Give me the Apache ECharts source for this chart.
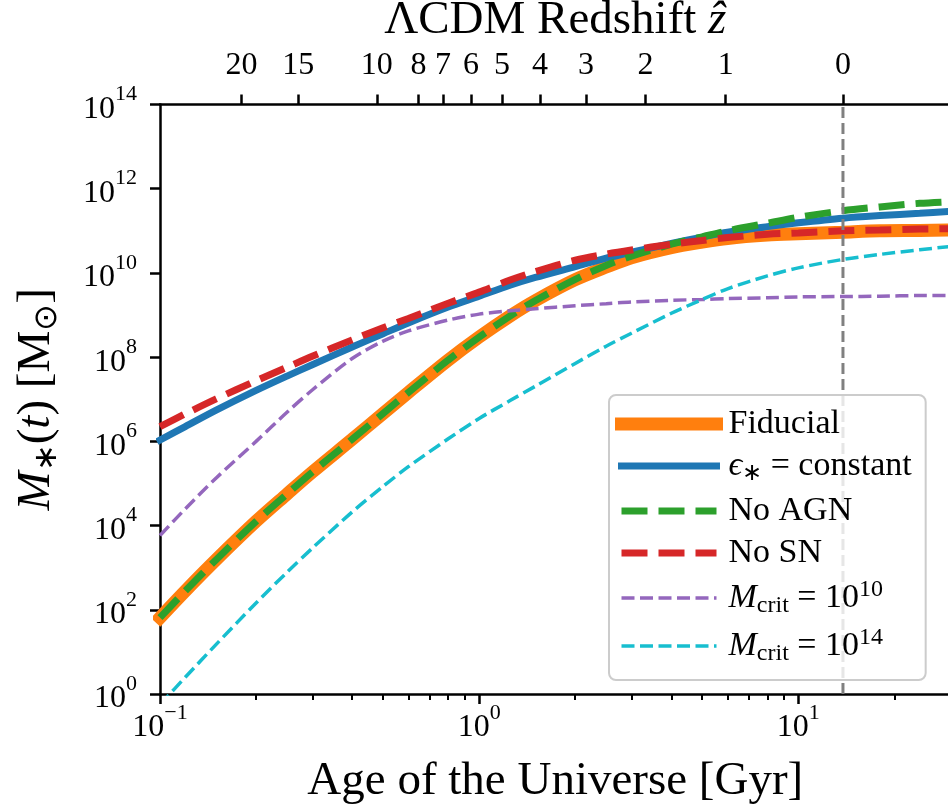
<!DOCTYPE html>
<html><head><meta charset="utf-8">
<script src="https://cdn.jsdelivr.net/npm/echarts@6/dist/echarts.min.js"></script>
<style>html,body{margin:0;padding:0;background:#fff}#c{width:948px;height:812px}</style>
</head><body><div id="c"></div>
<script>
// ---- data (age of the Universe in Gyr, stellar mass in solar masses) ----
const age = [0.1, 0.12, 0.15, 0.2, 0.25, 0.3, 0.4, 0.5, 0.6, 0.8, 1.0, 1.25, 1.5, 2, 2.5, 3, 4, 5, 6, 8, 10, 13.8, 18, 24, 30];
const fiducial = [6.5e1, 2.8e2, 1.55e3, 1.26e4, 5.6e4, 1.86e5, 1.12e6, 4.6e6, 1.45e7, 8.5e7, 3.0e8, 9.5e8, 2.2e9, 6.9e9, 1.38e10, 2.3e10, 4.0e10, 5.4e10, 6.6e10, 7.9e10, 8.5e10, 9.3e10, 1.0e11, 1.02e11, 1.05e11];
const epsConstant = [1.07e6, 2.24e6, 5.5e6, 1.62e7, 3.55e7, 6.6e7, 1.74e8, 3.6e8, 6.5e8, 1.55e9, 2.8e9, 5.1e9, 7.8e9, 1.41e10, 2.24e10, 3.1e10, 5.0e10, 7.1e10, 9.3e10, 1.26e11, 1.55e11, 2.0e11, 2.3e11, 2.6e11, 2.9e11];
const noAGN = [6.5e1, 2.8e2, 1.55e3, 1.26e4, 5.6e4, 1.86e5, 1.12e6, 4.6e6, 1.45e7, 8.5e7, 3.0e8, 9.5e8, 2.2e9, 7.0e9, 1.51e10, 2.5e10, 4.8e10, 7.2e10, 1.0e11, 1.51e11, 2.09e11, 3.0e11, 3.7e11, 4.5e11, 4.9e11];
const noSN = [2.24e6, 4.5e6, 1.02e7, 2.75e7, 5.75e7, 1.05e8, 2.57e8, 5.0e8, 8.3e8, 1.91e9, 3.5e9, 6.8e9, 1.07e10, 2.0e10, 2.8e10, 3.5e10, 4.8e10, 5.9e10, 6.9e10, 8.3e10, 8.9e10, 1.0e11, 1.05e11, 1.1e11, 1.12e11];
const mcrit1e10 = [5.8e3, 2.5e4, 1.35e5, 1.0e6, 4.9e6, 1.66e7, 9.3e7, 2.4e8, 4.2e8, 7.6e8, 1.05e9, 1.26e9, 1.41e9, 1.66e9, 1.86e9, 2.04e9, 2.24e9, 2.34e9, 2.45e9, 2.57e9, 2.7e9, 2.75e9, 2.8e9, 2.9e9, 2.9e9];
const mcrit1e14 = [0.56, 2.5, 15.1, 145, 776, 2.9e3, 2.1e4, 8.5e4, 2.5e5, 1.15e6, 3.5e6, 9.3e6, 2.04e7, 7.1e7, 1.82e8, 3.7e8, 1.1e9, 2.34e9, 4.2e9, 8.5e9, 1.32e10, 2.09e10, 2.75e10, 3.55e10, 4.27e10];
const todayAge = 13.8;
const redshiftLabels = ['20', '15', '10', '8', '7', '6', '5', '4', '3', '2', '1', '0'];
const redshiftAges = [0.180, 0.271, 0.478, 0.646, 0.771, 0.942, 1.18, 1.55, 2.16, 3.32, 5.92, 13.8];
const xMajorTicks = [0.1, 1, 10];
const xMinorTicks = [0.2, 0.3, 0.4, 0.5, 0.6, 0.7, 0.8, 0.9, 2, 3, 4, 5, 6, 7, 8, 9, 20];
const yMajorTicks = [1, 1e2, 1e4, 1e6, 1e8, 1e10, 1e12, 1e14];
const xRange = [0.1, 30];
const yRange = [1, 1e14];

// ---- styling ----
const FONT = 'Liberation Serif';
const tickRich = {
  b: {fontFamily: FONT, fontSize: 32, lineHeight: 42, verticalAlign: 'bottom', color: '#000'},
  s: {fontFamily: FONT, fontSize: 22, lineHeight: 22, verticalAlign: 'top', color: '#000'}
};
const expLabel = v => {
  const e = Math.round(Math.log10(v));
  return '{b|10}{s|' + (e < 0 ? '\u2212' + (-e) : e) + '}';
};
const nameRich = {
  n: {fontFamily: FONT, fontSize: 47, lineHeight: 54, color: '#000'},
  i: {fontFamily: FONT, fontSize: 47, lineHeight: 54, fontStyle: 'italic', color: '#000'},
  sub: {fontFamily: FONT, fontSize: 32, lineHeight: 32, verticalAlign: 'bottom', color: '#000'}
};
const legRich = {
  g: {width: 7},
  n: {fontFamily: FONT, fontSize: 34, lineHeight: 40, color: '#000'},
  i: {fontFamily: FONT, fontSize: 34, lineHeight: 40, fontStyle: 'italic', color: '#000'},
  sub: {fontFamily: FONT, fontSize: 24, lineHeight: 24, verticalAlign: 'bottom', color: '#000'},
  sup: {fontFamily: FONT, fontSize: 24, lineHeight: 24, verticalAlign: 'top', color: '#000'}
};
const legendText = {
  'Fiducial': '{g|}{n|Fiducial}',
  'eps': '{g|}{i|\u03f5}{sub|\u2217}{n| = constant}',
  'No AGN': '{g|}{n|No AGN}',
  'No SN': '{g|}{n|No SN}',
  'mc10': '{g|}{i|M}{sub|crit}{n| = 10}{sup|10}',
  'mc14': '{g|}{i|M}{sub|crit}{n| = 10}{sup|14}'
};
const pair = ys => age.map((t, i) => [t, ys[i]]);
const thickDash = [26, 11];
const thinDash = [13, 5.5];
const mkLine = (name, ys, color, width, dash) => ({
  type: 'line', name: name, data: pair(ys), symbol: 'none', showSymbol: false,
  smooth: 0.3, clip: true, silent: true,
  lineStyle: {color: color, width: width, type: dash || 'solid', cap: dash ? 'butt' : 'square'},
  itemStyle: {color: color}
});
const axisLineStyle = {color: '#000', width: 2.5};
const hiddenSym = {color: 'rgba(0,0,0,0)', borderWidth: 0, opacity: 0};

const option = {
  animation: false,
  backgroundColor: '#fff',
  grid: [
    {left: 160, top: 104.5, right: -2.6, bottom: 118, containLabel: false, outerBoundsMode: 'none'},
    {left: 160, top: 104.5, right: -2.6, bottom: 118, containLabel: false, outerBoundsMode: 'none'}
  ],
  xAxis: [
    {
      type: 'log', logBase: 10, min: xRange[0], max: xRange[1], gridIndex: 0, position: 'bottom',
      axisLine: {show: true, onZero: false, lineStyle: axisLineStyle},
      axisTick: {show: true, customValues: xMajorTicks, length: 10, inside: false, lineStyle: axisLineStyle},
      axisLabel: {show: true, customValues: xMajorTicks, formatter: expLabel, margin: 8, rich: tickRich},
      splitLine: {show: false}, minorTick: {show: false},
      name: 'Age of the Universe [Gyr]', nameLocation: 'middle', nameGap: 64,
      nameTextStyle: {fontFamily: FONT, fontSize: 47, color: '#000'}
    },
    {
      type: 'log', logBase: 10, min: xRange[0], max: xRange[1], gridIndex: 0, position: 'top',
      axisLine: {show: true, onZero: false, lineStyle: axisLineStyle},
      axisTick: {show: true, customValues: redshiftAges, length: 10, inside: false, lineStyle: axisLineStyle},
      axisLabel: {
        show: true, customValues: redshiftAges, margin: 23,
        formatter: v => {
          let best = 0, bd = 1e9;
          redshiftAges.forEach((a, i) => { const d = Math.abs(Math.log(a / v)); if (d < bd) { bd = d; best = i; } });
          return '{b|' + redshiftLabels[best] + '}';
        },
        rich: tickRich
      },
      splitLine: {show: false},
      name: '{n|\u039bCDM Redshift }{i|\u1e91}', nameLocation: 'middle', nameGap: 50,
      nameTextStyle: {rich: nameRich}
    },
    {
      type: 'log', logBase: 10, min: xRange[0], max: xRange[1], gridIndex: 1, position: 'bottom',
      axisLine: {show: false},
      axisTick: {show: true, customValues: xMinorTicks, length: 6, inside: false, lineStyle: {color: '#000', width: 2}},
      axisLabel: {show: false}, splitLine: {show: false}
    }
  ],
  yAxis: [
    {
      type: 'log', logBase: 10, min: yRange[0], max: yRange[1], gridIndex: 0, position: 'left',
      axisLine: {show: true, onZero: false, lineStyle: axisLineStyle},
      axisTick: {show: true, customValues: yMajorTicks, length: 10, inside: false, lineStyle: axisLineStyle},
      axisLabel: {show: true, customValues: yMajorTicks, formatter: expLabel, margin: 23, rich: tickRich},
      splitLine: {show: false},
      name: '{i|M}{sub|\u2217}{n|(}{i|t}{n|) [M}{sub|\u2299}{n|]}', nameLocation: 'middle', nameGap: 96, nameRotate: 90,
      nameTextStyle: {rich: nameRich}
    },
    {type: 'value', gridIndex: 1, show: false, min: 0, max: 1}
  ],
  legend: {
    data: [
      {name: 'Fiducial', lineStyle: {width: 13}},
      {name: 'eps', lineStyle: {width: 7}},
      {name: 'No AGN', lineStyle: {width: 7}},
      {name: 'No SN', lineStyle: {width: 7}},
      {name: 'mc10', lineStyle: {width: 3.5}},
      {name: 'mc14', lineStyle: {width: 3.5}}
    ],
    orient: 'vertical', left: 609, top: 395,
    itemWidth: 95, itemHeight: 14, itemGap: 8,
    padding: [12, 14, 14, 6],
    itemStyle: hiddenSym,
    backgroundColor: 'rgba(255,255,255,0.8)', borderColor: '#cccccc', borderWidth: 2, borderRadius: 7,
    formatter: n => legendText[n],
    textStyle: {fontFamily: FONT, fontSize: 34, color: '#000', rich: legRich},
    selectedMode: false
  },
  series: [
    mkLine('Fiducial', fiducial, '#ff7f0e', 13),
    mkLine('eps', epsConstant, '#1f77b4', 7),
    mkLine('No AGN', noAGN, '#2ca02c', 7, thickDash),
    mkLine('No SN', noSN, '#d62728', 7, thickDash),
    mkLine('mc10', mcrit1e10, '#9467bd', 3.5, thinDash),
    mkLine('mc14', mcrit1e14, '#17becf', 3.5, thinDash),
    {
      type: 'line', name: 'today', data: [[todayAge, yRange[0]], [todayAge, yRange[1]]],
      symbol: 'none', silent: true, clip: true,
      lineStyle: {color: '#808080', width: 3, type: [11, 5]}
    }
  ]
};
const chart = echarts.init(document.getElementById('c'), null, {renderer: 'canvas'});
chart.setOption(option);
</script></body></html>
